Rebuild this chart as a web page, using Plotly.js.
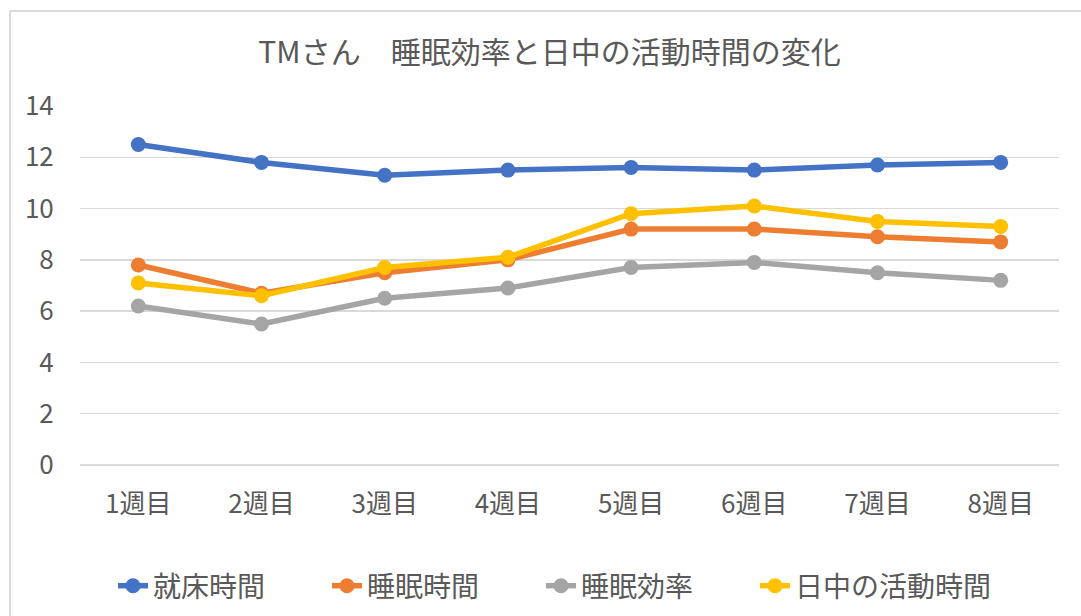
<!DOCTYPE html>
<html>
<head>
<meta charset="utf-8">
<script src="https://cdn.plot.ly/plotly-3.0.1.min.js"></script>
<style>html,body{margin:0;padding:0;background:#fff;}#chart{width:1081px;height:616px;}</style>
</head>
<body>
<div id="chart"></div>
<script>
const weeks = ["1週目","2週目","3週目","4週目","5週目","6週目","7週目","8週目"];
const bedTime = [12.5, 11.8, 11.3, 11.5, 11.6, 11.5, 11.7, 11.8];
const sleepTime = [7.8, 6.7, 7.5, 8.0, 9.2, 9.2, 8.9, 8.7];
const sleepEfficiency = [6.2, 5.5, 6.5, 6.9, 7.7, 7.9, 7.5, 7.2];
const dayActivity = [7.1, 6.6, 7.7, 8.1, 9.8, 10.1, 9.5, 9.3];
const seriesNames = ["就床時間","睡眠時間","睡眠効率","日中の活動時間"];
const colors = ["#4472C4","#ED7D31","#A5A5A5","#FFC000"];
const titleText = "TMさん　睡眠効率と日中の活動時間の変化";

const font = '"Noto Sans CJK JP", "Noto Sans", sans-serif';
const legendIds = ['legend','legend2','legend3','legend4'];
const data = [bedTime, sleepTime, sleepEfficiency, dayActivity].map((ys, i) => ({
  type: 'scatter', mode: 'lines+markers', x: weeks, y: ys, name: seriesNames[i],
  legend: legendIds[i],
  line: {color: colors[i], width: 5.5},
  marker: {color: colors[i], size: 15}
}));

const L = 80, R = 1059, T = 106, B = 465;
const px = v => (v - L) / (R - L);
const py = v => (B - v) / (B - T);

const layout = {
  width: 1081, height: 616,
  margin: {l: L, r: 1081 - R, t: T, b: 616 - B, autoexpand: false},
  paper_bgcolor: '#fff', plot_bgcolor: '#fff',
  font: {family: font, color: '#595959'},
  title: {text: titleText, font: {size: 30, color: '#595959', family: font},
          xref: 'paper', x: px(549.5), xanchor: 'center', yref: 'container', y: 1 - 52/616, yanchor: 'middle'},
  xaxis: {type: 'category', showgrid: false, zeroline: false, showline: false, automargin: false,
          ticks: 'outside', ticklen: 16, tickcolor: 'rgba(0,0,0,0)',
          tickfont: {size: 26, color: '#595959', family: font}, fixedrange: true},
  yaxis: {range: [0, 14], dtick: 2, showgrid: true, gridcolor: '#d9d9d9', gridwidth: 1.5, automargin: false,
          zeroline: true, zerolinecolor: '#d9d9d9', zerolinewidth: 1.5, showline: false,
          ticks: 'outside', ticklen: 20, tickcolor: 'rgba(0,0,0,0)',
          tickfont: {size: 26, color: '#595959', family: font}, fixedrange: true},
  showlegend: true,
  shapes: [
    {type: 'line', xref: 'paper', yref: 'paper', x0: px(10), x1: px(10), y0: py(11), y1: py(640), line: {color: '#d9d9d9', width: 2}},
    {type: 'line', xref: 'paper', yref: 'paper', x0: px(10), x1: px(1100), y0: py(11), y1: py(11), line: {color: '#d9d9d9', width: 2}}
  ]
};
const legendStarts = [113, 327, 541, 755];
legendIds.forEach((id, i) => {
  layout[id] = {orientation: 'h', x: px(legendStarts[i]), xanchor: 'left', y: py(586), yanchor: 'middle',
                font: {size: 28, color: '#595959', family: font}, itemwidth: 30,
                bgcolor: 'rgba(0,0,0,0)'};
});

Plotly.newPlot('chart', data, layout, {displayModeBar: false, staticPlot: true});
</script>
</body>
</html>
